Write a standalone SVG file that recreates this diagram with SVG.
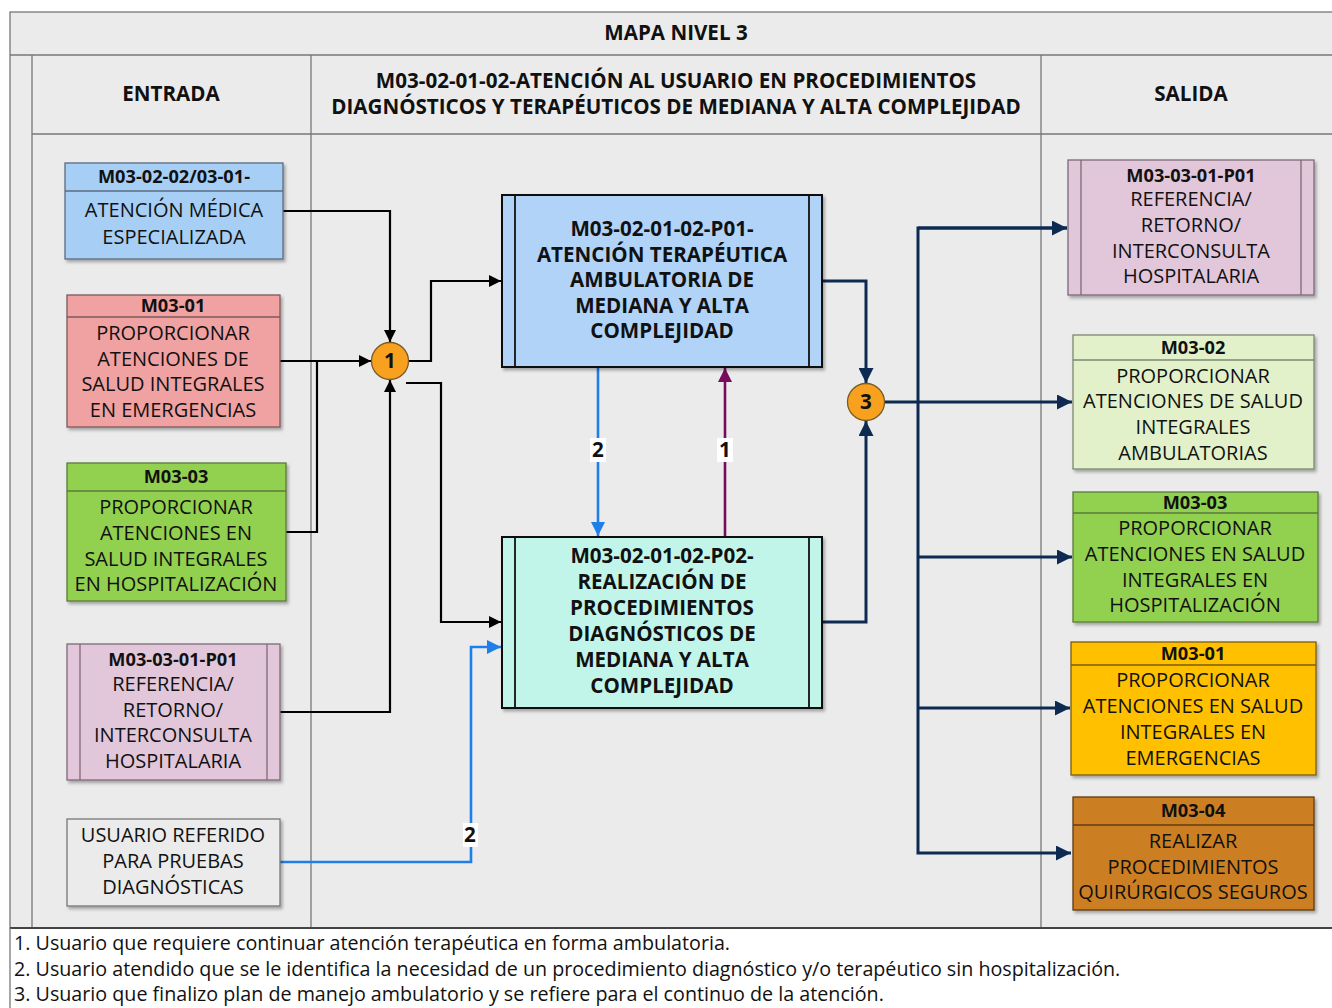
<svg xmlns="http://www.w3.org/2000/svg" width="1332" height="1008" viewBox="0 0 1332 1008">
<defs>
<style>
.t{font-family:"Open Sans","Noto Sans",sans-serif;font-size:20px;fill:#111;text-anchor:middle}
.b{font-family:"Open Sans","Noto Sans",sans-serif;font-weight:bold;fill:#111;text-anchor:middle}
.hd{font-size:18.2px}
.big{font-size:20.6px}
.bw{font-weight:bold;font-size:18.2px}
.fn{font-family:"Open Sans","Noto Sans",sans-serif;font-size:19.7px;fill:#111}
.grid{stroke:#777;stroke-width:1.3;fill:none}
.k{fill:none;stroke:#000;stroke-width:2.2}
.nv{fill:none;stroke:#0d2a52;stroke-width:3}
.bl{fill:none;stroke:#1e7fe9;stroke-width:2.6}
.pu{fill:none;stroke:#770c5e;stroke-width:2.6}
.lbl{fill:#fff}
</style>
<marker id="ak" viewBox="0 0 10 10" refX="10" refY="5" markerWidth="12" markerHeight="12" markerUnits="userSpaceOnUse" orient="auto"><path d="M0,0 L10,5 L0,10 z" fill="#000"/></marker>
<marker id="an" viewBox="0 0 10 10" refX="10" refY="5" markerWidth="15" markerHeight="15" markerUnits="userSpaceOnUse" orient="auto"><path d="M0,0 L10,5 L0,10 z" fill="#0d2a52"/></marker>
<marker id="ab" viewBox="0 0 10 10" refX="10" refY="5" markerWidth="14" markerHeight="14" markerUnits="userSpaceOnUse" orient="auto"><path d="M0,0 L10,5 L0,10 z" fill="#1e7fe9"/></marker>
<marker id="ap" viewBox="0 0 10 10" refX="10" refY="5" markerWidth="14" markerHeight="14" markerUnits="userSpaceOnUse" orient="auto"><path d="M0,0 L10,5 L0,10 z" fill="#770c5e"/></marker>
<filter id="sh" x="-10%" y="-10%" width="120%" height="120%"><feDropShadow dx="2" dy="2.5" stdDeviation="1.5" flood-color="#000" flood-opacity="0.3"/></filter>
</defs>

<g id="frame">
<rect x="0" y="0" width="1332" height="1008" fill="#fff"/>
<rect x="10" y="12" width="1330" height="916" fill="#ebebeb" stroke="#777" stroke-width="1.3"/>
<line class="grid" x1="10" y1="55" x2="1332" y2="55"/>
<line class="grid" x1="32" y1="134" x2="1332" y2="134"/>
<line class="grid" x1="32" y1="55" x2="32" y2="928"/>
<line class="grid" x1="311" y1="55" x2="311" y2="928"/>
<line class="grid" x1="1041" y1="55" x2="1041" y2="928"/>
<line x1="10" y1="928" x2="1332" y2="928" stroke="#444" stroke-width="2"/>
<line class="grid" x1="10" y1="928" x2="10" y2="1008"/>
<text class="b big" x="676" y="40">MAPA NIVEL 3</text>
<text class="b big" x="171" y="101">ENTRADA</text>
<text class="b big" x="676"><tspan x="676" y="88">M03-02-01-02-ATENCIÓN AL USUARIO EN PROCEDIMIENTOS</tspan><tspan x="676" y="114">DIAGNÓSTICOS Y TERAPÉUTICOS DE MEDIANA Y ALTA COMPLEJIDAD</tspan></text>
<text class="b big" x="1191" y="101">SALIDA</text>
</g>

<g id="connectors">
<polyline class="k" points="283,211 390,211 390,342" marker-end="url(#ak)"/>
<polyline class="k" points="280,361 371,361" marker-end="url(#ak)"/>
<polyline class="k" points="286,532 317,532 317,361"/>
<polyline class="k" points="280,712 390,712 390,380" marker-end="url(#ak)"/>
<polyline class="k" points="408,361 431,361 431,281 501,281" marker-end="url(#ak)"/>
<polyline class="k" points="406,383 441,383 441,622 501,622" marker-end="url(#ak)"/>
<polyline class="bl" points="280,862 471,862 471,647 501,647" marker-end="url(#ab)"/>
<rect class="lbl" x="463" y="823" width="15" height="24"/>
<text class="b big" x="470" y="842">2</text>
<polyline class="bl" points="598,367 598,536" marker-end="url(#ab)"/>
<rect class="lbl" x="590" y="438" width="16" height="24"/>
<text class="b big" x="598" y="457">2</text>
<polyline class="pu" points="725,537 725,368" marker-end="url(#ap)"/>
<rect class="lbl" x="717" y="438" width="16" height="24"/>
<text class="b big" x="725" y="457">1</text>
<polyline class="nv" points="822,281 866,281 866,383" marker-end="url(#an)"/>
<polyline class="nv" points="822,622 866,622 866,421" marker-end="url(#an)"/>
<polyline class="nv" points="884,402 1072,402" marker-end="url(#an)"/>
<polyline class="nv" points="1067,228 918,228 918,853 1071,853" marker-end="url(#an)"/>
<polyline class="nv" points="918,228 1067,228" marker-end="url(#an)"/>
<polyline class="nv" points="918,557 1072,557" marker-end="url(#an)"/>
<polyline class="nv" points="918,708 1070,708" marker-end="url(#an)"/>
</g>

<g id="in-atencion-medica">
<rect x="65" y="163" width="218" height="96" fill="#a7cef5" stroke="#5a6b80" stroke-width="1.3" filter="url(#sh)"/>
<line x1="65" y1="191" x2="283" y2="191" stroke="#5a6b80" stroke-width="1.3"/>
<text class="b hd" x="174" y="183">M03-02-02/03-01-</text>
<text class="t"><tspan x="174" y="217">ATENCIÓN MÉDICA</tspan><tspan x="174" y="244">ESPECIALIZADA</tspan></text>
</g>

<g id="in-m03-01">
<rect x="67" y="295" width="213" height="132" fill="#f0a1a2" stroke="#7d5a5a" stroke-width="1.3" filter="url(#sh)"/>
<line x1="67" y1="317" x2="280" y2="317" stroke="#7d5a5a" stroke-width="1.3"/>
<text class="b hd" x="173" y="312">M03-01</text>
<text class="t"><tspan x="173" y="340">PROPORCIONAR</tspan><tspan x="173" y="365.5">ATENCIONES DE</tspan><tspan x="173" y="391">SALUD INTEGRALES</tspan><tspan x="173" y="417">EN EMERGENCIAS</tspan></text>
</g>

<g id="in-m03-03">
<rect x="67" y="463" width="219" height="138" fill="#92d050" stroke="#5b7a3c" stroke-width="1.3" filter="url(#sh)"/>
<line x1="67" y1="491" x2="286" y2="491" stroke="#5b7a3c" stroke-width="1.3"/>
<text class="b hd" x="176" y="483">M03-03</text>
<text class="t"><tspan x="176" y="514">PROPORCIONAR</tspan><tspan x="176" y="540">ATENCIONES EN</tspan><tspan x="176" y="565.5">SALUD INTEGRALES</tspan><tspan x="176" y="591">EN HOSPITALIZACIÓN</tspan></text>
</g>

<g id="in-m03-03-01-p01">
<rect x="67" y="644" width="213" height="136" fill="#e2c6da" stroke="#7d6b78" stroke-width="1.3" filter="url(#sh)"/>
<line x1="80" y1="644" x2="80" y2="780" stroke="#7d6b78" stroke-width="1.3"/>
<line x1="267" y1="644" x2="267" y2="780" stroke="#7d6b78" stroke-width="1.3"/>
<text class="t"><tspan class="bw" x="173" y="666">M03-03-01-P01</tspan><tspan x="173" y="691">REFERENCIA/</tspan><tspan x="173" y="716.5">RETORNO/</tspan><tspan x="173" y="742">INTERCONSULTA</tspan><tspan x="173" y="768">HOSPITALARIA</tspan></text>
</g>

<g id="in-usuario">
<rect x="67" y="819" width="213" height="87" fill="#ebebeb" stroke="#777" stroke-width="1.3" filter="url(#sh)"/>
<text class="t"><tspan x="173" y="842">USUARIO REFERIDO</tspan><tspan x="173" y="868">PARA PRUEBAS</tspan><tspan x="173" y="894">DIAGNÓSTICAS</tspan></text>
</g>

<g id="p01">
<rect x="502" y="195" width="320" height="172" fill="#b0d3f7" stroke="#111" stroke-width="2" filter="url(#sh)"/>
<line x1="515" y1="195" x2="515" y2="367" stroke="#111" stroke-width="1.8"/>
<line x1="809" y1="195" x2="809" y2="367" stroke="#111" stroke-width="1.8"/>
<text class="b big"><tspan x="662" y="236">M03-02-01-02-P01-</tspan><tspan x="662" y="261.5">ATENCIÓN TERAPÉUTICA</tspan><tspan x="662" y="287">AMBULATORIA DE</tspan><tspan x="662" y="312.5">MEDIANA Y ALTA</tspan><tspan x="662" y="338">COMPLEJIDAD</tspan></text>
</g>

<g id="p02">
<rect x="502" y="537" width="320" height="171" fill="#c2f5e9" stroke="#111" stroke-width="2" filter="url(#sh)"/>
<line x1="515" y1="537" x2="515" y2="708" stroke="#111" stroke-width="1.8"/>
<line x1="809" y1="537" x2="809" y2="708" stroke="#111" stroke-width="1.8"/>
<text class="b big"><tspan x="662" y="563">M03-02-01-02-P02-</tspan><tspan x="662" y="589">REALIZACIÓN DE</tspan><tspan x="662" y="615">PROCEDIMIENTOS</tspan><tspan x="662" y="641">DIAGNÓSTICOS DE</tspan><tspan x="662" y="667">MEDIANA Y ALTA</tspan><tspan x="662" y="693">COMPLEJIDAD</tspan></text>
</g>

<g id="c1">
<circle cx="390" cy="361" r="18.5" fill="#f7a11f" stroke="#7a5a25" stroke-width="1.3"/>
<text class="b big" x="390" y="368">1</text>
</g>
<g id="c3">
<circle cx="866" cy="402" r="18.5" fill="#f7a11f" stroke="#7a5a25" stroke-width="1.3"/>
<text class="b big" x="866" y="409">3</text>
</g>

<g id="out-m03-03-01-p01">
<rect x="1068" y="160" width="246" height="135" fill="#e2c6da" stroke="#7d6b78" stroke-width="1.3" filter="url(#sh)"/>
<line x1="1081" y1="160" x2="1081" y2="295" stroke="#7d6b78" stroke-width="1.3"/>
<line x1="1301" y1="160" x2="1301" y2="295" stroke="#7d6b78" stroke-width="1.3"/>
<text class="t"><tspan class="bw" x="1191" y="181.5">M03-03-01-P01</tspan><tspan x="1191" y="206">REFERENCIA/</tspan><tspan x="1191" y="232">RETORNO/</tspan><tspan x="1191" y="257.5">INTERCONSULTA</tspan><tspan x="1191" y="283">HOSPITALARIA</tspan></text>
</g>

<g id="out-m03-02">
<rect x="1073" y="335" width="241" height="134" fill="#e2f1c9" stroke="#7a8870" stroke-width="1.3" filter="url(#sh)"/>
<line x1="1073" y1="360" x2="1314" y2="360" stroke="#7a8870" stroke-width="1.3"/>
<text class="b hd" x="1193" y="354">M03-02</text>
<text class="t"><tspan x="1193" y="382.5">PROPORCIONAR</tspan><tspan x="1193" y="408">ATENCIONES DE SALUD</tspan><tspan x="1193" y="434">INTEGRALES</tspan><tspan x="1193" y="460">AMBULATORIAS</tspan></text>
</g>

<g id="out-m03-03">
<rect x="1073" y="492" width="245" height="130" fill="#92d050" stroke="#5b7a3c" stroke-width="1.3" filter="url(#sh)"/>
<line x1="1073" y1="513" x2="1318" y2="513" stroke="#5b7a3c" stroke-width="1.3"/>
<text class="b hd" x="1195" y="508.5">M03-03</text>
<text class="t"><tspan x="1195" y="535">PROPORCIONAR</tspan><tspan x="1195" y="561">ATENCIONES EN SALUD</tspan><tspan x="1195" y="586.5">INTEGRALES EN</tspan><tspan x="1195" y="612">HOSPITALIZACIÓN</tspan></text>
</g>

<g id="out-m03-01">
<rect x="1071" y="642" width="245" height="133" fill="#ffc000" stroke="#7a5c10" stroke-width="1.3" filter="url(#sh)"/>
<line x1="1071" y1="665" x2="1316" y2="665" stroke="#7a5c10" stroke-width="1.3"/>
<text class="b hd" x="1193" y="660">M03-01</text>
<text class="t"><tspan x="1193" y="687">PROPORCIONAR</tspan><tspan x="1193" y="713">ATENCIONES EN SALUD</tspan><tspan x="1193" y="739">INTEGRALES EN</tspan><tspan x="1193" y="765">EMERGENCIAS</tspan></text>
</g>

<g id="out-m03-04">
<rect x="1073" y="797" width="241" height="113" fill="#cc7f20" stroke="#5e3c12" stroke-width="1.3" filter="url(#sh)"/>
<line x1="1073" y1="825" x2="1314" y2="825" stroke="#5e3c12" stroke-width="1.3"/>
<text class="b hd" x="1193" y="817">M03-04</text>
<text class="t"><tspan x="1193" y="848">REALIZAR</tspan><tspan x="1193" y="873.5">PROCEDIMIENTOS</tspan><tspan x="1193" y="899">QUIRÚRGICOS SEGUROS</tspan></text>
</g>

<g id="notes">
<text class="fn"><tspan x="14" y="950">1. Usuario que requiere continuar atención terapéutica en forma ambulatoria.</tspan><tspan x="14" y="975.5">2. Usuario atendido que se le identifica la necesidad de un procedimiento diagnóstico y/o terapéutico sin hospitalización.</tspan><tspan x="14" y="1001">3. Usuario que finalizo plan de manejo ambulatorio y se refiere para el continuo de la atención.</tspan></text>
</g>
</svg>
